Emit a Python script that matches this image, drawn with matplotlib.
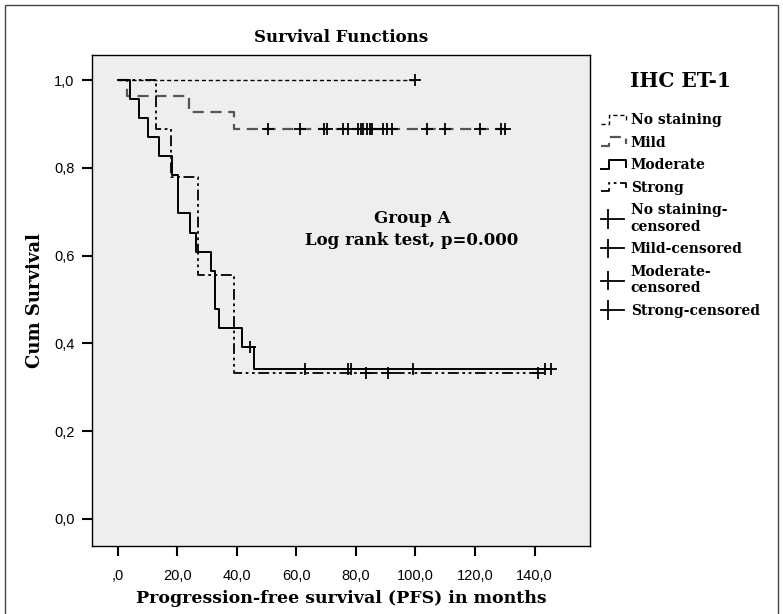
import numpy as np
import matplotlib.pyplot as plt
from matplotlib.lines import Line2D
from matplotlib.legend_handler import HandlerBase
from matplotlib.patches import Rectangle

# Kaplan-Meier step data (time in months, cum survival)
no_stain_t = [0, 100.0]
no_stain_s = [1.0, 1.0]
no_stain_cens = [100.0]

mild_t = [0, 3.0, 24.0, 39.0, 130.0]
mild_s = [1.0, 0.963, 0.926, 0.889, 0.889]
mild_cens = [50.5, 61.2, 69.3, 70.2, 75.6, 77.5, 80.8, 81.7, 82.5, 83.6, 84.7,
             85.5, 89.2, 90.5, 92.0, 103.8, 110.0, 121.8, 128.7, 130.0]

moder_t = [0, 4.0, 7.3, 10.3, 14.0, 18.2, 20.4, 24.3, 26.3, 31.3, 32.7, 34.2,
           41.7, 45.8, 145.5]
moder_s = [1.0, 0.957, 0.913, 0.870, 0.826, 0.783, 0.696, 0.652, 0.609, 0.565,
           0.478, 0.435, 0.391, 0.342, 0.342]
moder_cens = [44.3, 62.9, 77.5, 78.5, 99.3, 143.5, 145.5]

strong_t = [0, 13.0, 18.0, 27.1, 39.0, 141.0]
strong_s = [1.0, 0.889, 0.778, 0.556, 0.333, 0.333]
strong_cens = [83.4, 90.7, 141.0]

xticks = [0, 20, 40, 60, 80, 100, 120, 140]
xtick_labels = [',0', '20,0', '40,0', '60,0', '80,0', '100,0', '120,0', '140,0']
yticks = [0.0, 0.2, 0.4, 0.6, 0.8, 1.0]
ytick_labels = ['0,0', '0,2', '0,4', '0,6', '0,8', '1,0']


def surv_at(times, surv, t):
    idx = np.searchsorted(times, t, side='right') - 1
    return np.asarray(surv)[idx]


class StepHandler(HandlerBase):
    # SPSS-like step glyph for the survival lines
    def create_artists(self, legend, orig_handle, xdescent, ydescent,
                       width, height, fontsize, trans):
        x0, y0 = -xdescent, -ydescent
        xs = [x0, x0 + 0.3 * width, x0 + 0.3 * width, x0 + 0.9 * width, x0 + 0.9 * width]
        ys = [y0, y0, y0 + height, y0 + height, y0 + 0.25 * height]
        line = Line2D(xs, ys)
        line.update_from(orig_handle)
        line.set_marker('')
        line.set_drawstyle('default')
        line.set_clip_on(False)
        line.set_transform(trans)
        return [line]


class CensorHandler(HandlerBase):
    def create_artists(self, legend, orig_handle, xdescent, ydescent,
                       width, height, fontsize, trans):
        x0, y0 = -xdescent, -ydescent
        ym = y0 + height / 2
        h = Line2D([x0, x0 + 0.85 * width], [ym, ym], color='black', lw=1.3)
        v = Line2D([x0 + 0.25 * width] * 2, [ym - 1.0 * height, ym + 1.0 * height],
                   color='black', lw=1.3)
        h.set_transform(trans)
        v.set_transform(trans)
        return [h, v]


serif = ['DejaVu Serif']
sans = ['Liberation Sans', 'DejaVu Sans']

fig = plt.figure(figsize=(7.83, 6.14), dpi=100)
ax = fig.add_axes([92 / 783, 1 - 546 / 614, 498 / 783, 491 / 614])
ax.set_facecolor('#eeeeee')

l_no = ax.step(no_stain_t, no_stain_s, where='post', color='black', lw=1.0,
               dashes=(3, 2))[0]
l_mi = ax.step(mild_t, mild_s, where='post', color='#555555', lw=1.6,
               dashes=(5, 3))[0]
l_mo = ax.step(moder_t, moder_s, where='post', color='black', lw=1.4)[0]
l_st = ax.step(strong_t, strong_s, where='post', color='black', lw=1.3,
               dashes=(6, 2, 1.5, 2, 1.5, 2))[0]

mk = dict(marker='+', ls='none', color='black', ms=9, mew=1.3)
c_no = ax.plot(no_stain_cens, surv_at(no_stain_t, no_stain_s, no_stain_cens), **mk)[0]
c_mi = ax.plot(mild_cens, surv_at(mild_t, mild_s, mild_cens), **mk)[0]
c_mo = ax.plot(moder_cens, surv_at(moder_t, moder_s, moder_cens), **mk)[0]
c_st = ax.plot(strong_cens, surv_at(strong_t, strong_s, strong_cens), **mk)[0]

ax.set_xlim(-8.6, 158.6)
ax.set_ylim(-0.062, 1.057)
ax.set_xticks(xticks)
ax.set_xticklabels(xtick_labels, family=sans, fontsize=10.5)
ax.set_yticks(yticks)
ax.set_yticklabels(ytick_labels, family=sans, fontsize=10.5)
ax.tick_params(direction='out', length=7.5, width=1.5)
ax.tick_params(axis='x', pad=9)
ax.tick_params(axis='y', pad=5)
for sp in ax.spines.values():
    sp.set_linewidth(1.0)

ax.set_title('Survival Functions', family=serif, fontsize=12, fontweight='bold', pad=9)
ax.set_xlabel('Progression-free survival (PFS) in months', family=serif, fontsize=12.5,
              fontweight='bold', labelpad=5)
ax.set_ylabel('Cum Survival', family=serif, fontsize=13, fontweight='bold', labelpad=7)

ax.text(98.8, 0.66, 'Group A\nLog rank test, p=0.000', family=serif, fontsize=12,
        fontweight='bold', ha='center', va='center', linespacing=1.4)

handles = [l_no, l_mi, l_mo, l_st, c_no, c_mi, c_mo, c_st]
labels = ['No staining', 'Mild', 'Moderate', 'Strong', 'No staining-\ncensored',
          'Mild-censored', 'Moderate-\ncensored', 'Strong-censored']
hmap = {h: StepHandler() for h in handles[:4]}
hmap.update({h: CensorHandler() for h in handles[4:]})
leg = fig.legend(handles, labels, handler_map=hmap, loc='upper left',
                 bbox_to_anchor=(598 / 783, 1 - 68 / 614), frameon=False,
                 prop={'family': serif, 'weight': 'bold', 'size': 10},
                 handlelength=2.0, handleheight=0.6, handletextpad=0.15,
                 labelspacing=0.62, borderpad=0.2, borderaxespad=0)
leg.set_title('IHC ET-1', prop={'family': serif, 'weight': 'bold', 'size': 14.5})
leg._legend_box.sep = 16

# outer frame around the whole chart
fig.patches.append(Rectangle((5 / 783, -0.05), 773 / 783, 1.05 - 5 / 614,
                             transform=fig.transFigure, fill=False,
                             edgecolor='#444444', lw=1.0))

fig.savefig('out.png', dpi=100)
